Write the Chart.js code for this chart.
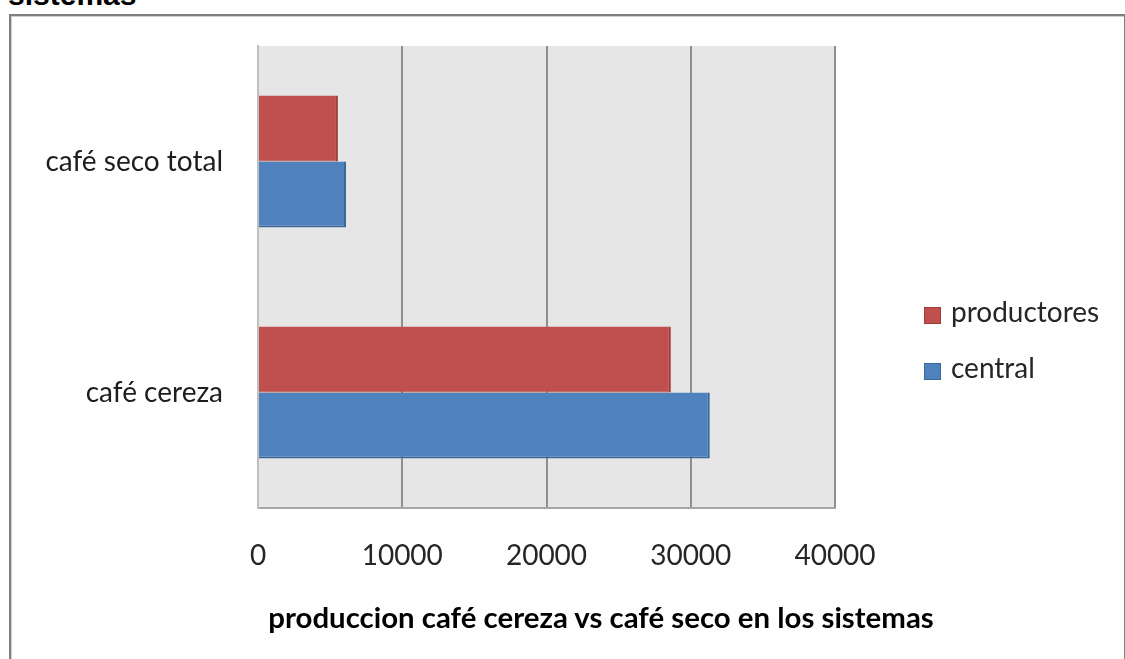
<!DOCTYPE html>
<html>
<head>
<meta charset="utf-8">
<script src="https://cdn.jsdelivr.net/npm/chart.js@4.4.1/dist/chart.umd.min.js"></script>
<style>
  html, body { margin: 0; padding: 0; background: #fff; overflow: hidden; }
  #wrap { position: relative; width: 1125px; height: 659px; }
  #frame { position: absolute; left: 9px; top: 14px; width: 1113px; height: 700px;
           border: 2px solid #7f7f7f; box-shadow: inset 1px 1px 0 #cfcfcf; }
  #cut-title { position: absolute; left: 8px; top: -20px; font: bold 30px "Liberation Sans", Arial, sans-serif;
               line-height: 30px; color: #000; white-space: nowrap; }
  #chart-box { position: absolute; left: 0; top: 0; width: 1125px; height: 659px; }
  #axis-title { position: absolute; left: 201px; width: 800px; top: 602px; text-align: center;
                font: bold 29.4px Lato, sans-serif; line-height: 30px; color: #000; white-space: nowrap; }
  #legend { position: absolute; left: 924px; top: 0; }
  .item { position: absolute; left: 0; height: 28px; font: 28px Lato, sans-serif; line-height: 28px;
          color: #262626; white-space: nowrap; }
  .item span.box { position: absolute; left: 0; top: 10px; width: 17px; height: 17px; box-sizing: border-box; }
  .item span.txt { position: absolute; left: 27px; top: 0; }
</style>
</head>
<body>
<div id="wrap">
  <div id="frame"></div>
  <div id="cut-title">sistemas</div>
  <div id="chart-box"><canvas id="bars"></canvas></div>
  <div id="axis-title"></div>
  <div id="legend"></div>
</div>
<script>
const categories = ['café seco total', 'café cereza'];
const seriesNames = ['productores', 'central'];
const productores = [5540, 28620];
const central = [6100, 31320];
const xTicks = [0, 10000, 20000, 30000, 40000];
const xTitle = 'produccion café cereza vs café seco en los sistemas';

// grey plot area like the excel original
const plotBg = {
  id: 'plotBg',
  beforeDraw(chart) {
    const {ctx, chartArea: a} = chart;
    ctx.save();
    ctx.fillStyle = '#e6e6e6';
    ctx.fillRect(a.left, a.top, a.right - a.left, a.bottom - a.top);
    ctx.restore();
  }
};

let ctx = document.getElementById('bars');
Chart.defaults.font.family = 'Lato, sans-serif';
Chart.defaults.color = '#262626';

const chart = new Chart(ctx, {
  type: 'bar',
  data: {
    labels: categories,
    datasets: [{
      label: seriesNames[0],
      data: productores,
      backgroundColor: '#c0504d',
      borderColor: '#9d3c39',
      borderWidth: {top: 0, right: 2, bottom: 1, left: 0},
      borderSkipped: false
    }, {
      label: seriesNames[1],
      data: central,
      backgroundColor: '#4f81bd',
      borderColor: '#3b679b',
      borderWidth: {top: 0, right: 2, bottom: 2, left: 0},
      borderSkipped: false
    }]
  },
  options: {
    indexAxis: 'y',
    responsive: true,
    maintainAspectRatio: false,
    animation: false,
    categoryPercentage: 0.572,
    barPercentage: 1,
    layout: { padding: {top: 46, left: 0, right: 290, bottom: 0} },
    scales: {
      x: {
        min: 0,
        max: 40000,
        afterBuildTicks: scale => { scale.ticks = xTicks.map(v => ({value: v})); },
        afterFit: scale => {
          scale.height = 151;
          scale.paddingLeft = 0;
          scale.paddingRight = 0;
        },
        grid: {
          drawTicks: false,
          lineWidth: 2,
          color: c => (c.tick && c.tick.value === 0) ? '#bfbfbf' : '#8f8f8f'
        },
        border: { display: true, color: '#a6a6a6', width: 2 },
        ticks: { padding: 31, font: {size: 28}, color: '#262626', maxRotation: 0,
                 callback: v => String(v) }
      },
      y: {
        afterFit: scale => {
          scale.width = 258;
          scale.paddingTop = 0;
          scale.paddingBottom = 0;
        },
        grid: { display: false, drawTicks: false },
        border: { display: true, color: '#bfbfbf', width: 2 },
        ticks: { padding: 35, font: {size: 28}, color: '#1e1e1e' }
      }
    },
    plugins: {
      legend: { display: false },
      tooltip: { enabled: false }
    }
  },
  plugins: [plotBg]
});

// html legend built from the chart's own legend items
const legendTops = [297, 353];
const items = Chart.defaults.plugins.legend.labels.generateLabels(chart);
document.getElementById('legend').innerHTML = items.map((it, i) => `
  <div class="item" style="top:${legendTops[i]}px">
    <span class="box" style="background:${it.fillStyle};border:1px solid ${it.strokeStyle}"></span>
    <span class="txt">${it.text}</span>
  </div>`).join('');

document.getElementById('axis-title').textContent = xTitle;
</script>
</body>
</html>
